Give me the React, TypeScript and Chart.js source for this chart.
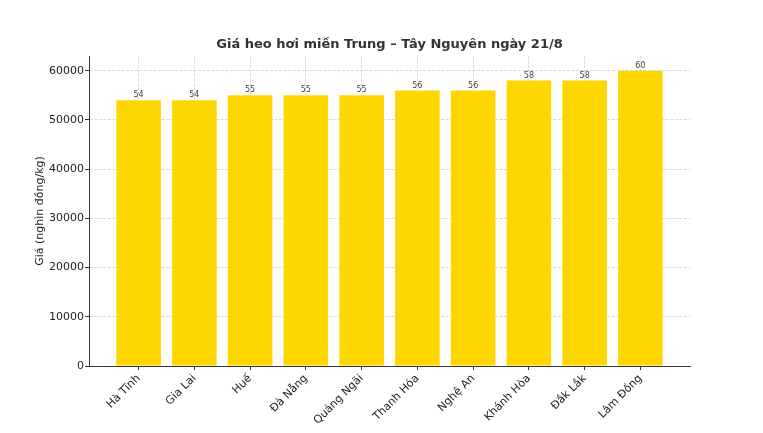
import React, { useEffect, useRef } from "react";
import { Chart, registerables } from "chart.js";

Chart.register(...registerables);

const TITLE = "Giá heo hơi miền Trung – Tây Nguyên ngày 21/8";
const Y_LABEL = "Giá (nghìn đồng/kg)";
const categories = [
  "Hà Tĩnh",
  "Gia Lai",
  "Huế",
  "Đà Nẵng",
  "Quảng Ngãi",
  "Thanh Hóa",
  "Nghệ An",
  "Khánh Hòa",
  "Đắk Lắk",
  "Lâm Đồng",
];
const pricesThousand = [54, 54, 55, 55, 55, 56, 56, 58, 58, 60];
const prices = pricesThousand.map((v) => v * 1000);
const yTicks = [0, 10000, 20000, 30000, 40000, 50000, 60000];

const FONT = "'DejaVu Sans', sans-serif";

const titlePlugin = {
  id: "axesTitle",
  afterDraw(chart: any) {
    const { ctx, chartArea } = chart;
    ctx.save();
    ctx.font = `bold 13px ${FONT}`;
    ctx.fillStyle = "#333";
    ctx.textAlign = "center";
    ctx.textBaseline = "middle";
    ctx.fillText(TITLE, (chartArea.left + chartArea.right) / 2, chartArea.top - 11);
    ctx.restore();
  },
};

const valueLabels = {
  id: "valueLabels",
  afterDatasetsDraw(chart: any) {
    const { ctx } = chart;
    const meta = chart.getDatasetMeta(0);
    ctx.save();
    ctx.font = `8px ${FONT}`;
    ctx.fillStyle = "#444";
    ctx.textAlign = "center";
    ctx.textBaseline = "bottom";
    meta.data.forEach((bar: any, i: number) => {
      ctx.fillText(String(pricesThousand[i]), bar.x, bar.y - 1);
    });
    ctx.restore();
  },
};

export default function App() {
  const ref = useRef<HTMLCanvasElement>(null);
  useEffect(() => {
    document.body.style.margin = "0";
    const chart = new Chart(ref.current!, {
      type: "bar",
      data: {
        datasets: [
          {
            data: prices.map((y, i) => ({ x: i, y })),
            backgroundColor: "#FFD700",
            borderWidth: 0,
            barPercentage: 0.8,
            categoryPercentage: 1.0,
          },
        ],
      },
      options: {
        animation: false,
        responsive: false,
        maintainAspectRatio: false,
        layout: { padding: { left: 30, right: 73, top: 56, bottom: 0 } },
        plugins: {
          legend: { display: false },
          title: { display: false },
          tooltip: { enabled: false },
        },
        scales: {
          x: {
            type: "linear",
            offset: false,
            min: -0.89,
            max: 9.89,
            afterBuildTicks: (axis: any) => {
              axis.ticks = categories.map((_, i) => ({ value: i }));
            },
            afterFit: (axis: any) => {
              axis.height = 67;
            },
            ticks: {
              autoSkip: false,
              minRotation: 45,
              maxRotation: 45,
              padding: 2,
              color: "#222",
              font: { family: FONT, size: 11 },
              callback: (v: any) => categories[v] ?? "",
            },
            grid: {
              offset: false,
              color: "rgba(160,160,160,0.5)",
              lineWidth: 0.8,
              tickLength: 4,
              tickColor: "#333",
              tickWidth: 1,
            },
            border: { display: true, color: "#333", width: 1, dash: [3, 1.5] },
          },
          y: {
            min: 0,
            max: 63000,
            afterBuildTicks: (axis: any) => {
              axis.ticks = yTicks.map((v) => ({ value: v }));
            },
            afterFit: (axis: any) => {
              axis.width = 59;
            },
            ticks: {
              padding: 1,
              color: "#222",
              font: { family: FONT, size: 11 },
              callback: (v: any) => String(v),
            },
            grid: {
              color: "rgba(160,160,160,0.5)",
              lineWidth: 0.8,
              tickLength: 4,
              tickColor: "#333",
              tickWidth: 1,
            },
            border: { display: true, color: "#333", width: 1, dash: [3, 1.5] },
            title: {
              display: true,
              text: Y_LABEL,
              color: "#222",
              font: { family: FONT, size: 11 },
              padding: { top: 4, bottom: 4 },
            },
          },
        },
      },
      plugins: [titlePlugin, valueLabels],
    } as any);
    return () => chart.destroy();
  }, []);
  return (
    <div style={{ position: "fixed", left: 0, top: 0, width: 763, height: 433, background: "#fff" }}>
      <canvas ref={ref} width={763} height={433} style={{ width: 763, height: 433 }} />
    </div>
  );
}
